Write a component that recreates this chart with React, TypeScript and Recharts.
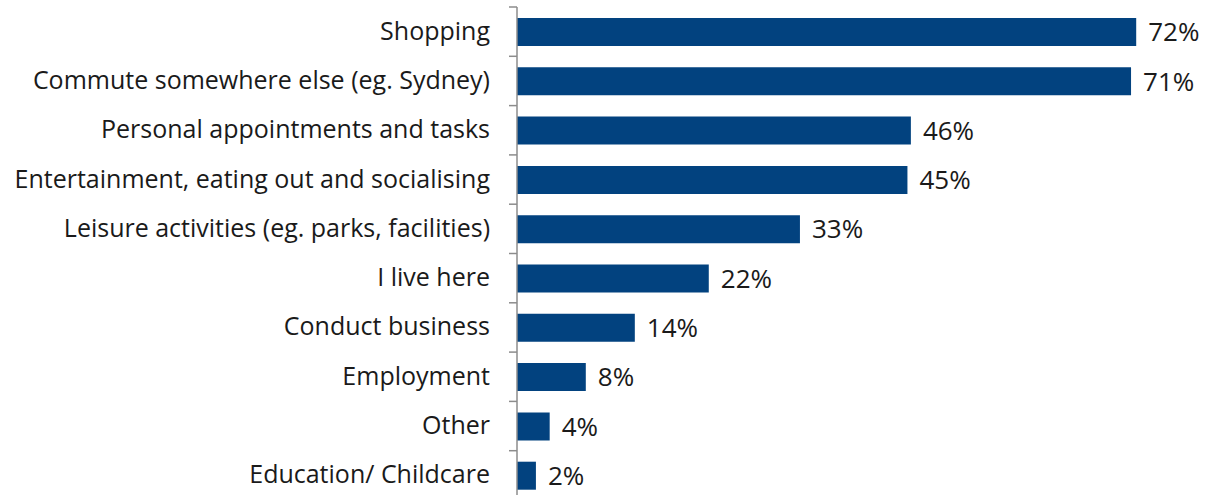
import { BarChart, Bar, XAxis, YAxis, LabelList } from "recharts";

const categories = [
  "Shopping",
  "Commute somewhere else (eg. Sydney)",
  "Personal appointments and tasks",
  "Entertainment, eating out and socialising",
  "Leisure activities (eg. parks, facilities)",
  "I live here",
  "Conduct business",
  "Employment",
  "Other",
  "Education/ Childcare",
];

const shares = [72, 71.4, 45.8, 45.4, 32.9, 22.3, 13.7, 8.0, 3.8, 2.2];

const data = categories.map((name, i) => ({ name, value: shares[i] }));

const CHART_H = 500;
const TOP = 7;
const BAND = (CHART_H - TOP) / categories.length;
const FONT = "'Open Sans', 'Noto Sans', sans-serif";

function CategoryTick({ x, y, payload, index }: any) {
  const axisX = x + 27;
  return (
    <g>
      <line x1={axisX - 8} x2={axisX} y1={y - BAND / 2} y2={y - BAND / 2} stroke="#8c8c8c" strokeWidth={1.5} />
      {index === categories.length - 1 && (
        <line x1={axisX - 8} x2={axisX} y1={y + BAND / 2} y2={y + BAND / 2} stroke="#8c8c8c" strokeWidth={1.5} />
      )}
      <text x={x} y={y} dy={8} textAnchor="end" fontSize={25} fill="#1a1a1a" fontFamily={FONT}>
        {payload.value}
      </text>
    </g>
  );
}

export default function App() {
  return (
    <div style={{ position: "absolute", left: 0, top: 0, width: 1212, height: 495, overflow: "hidden", background: "#fff" }}>
      <BarChart
        width={1212}
        height={CHART_H}
        data={data}
        layout="vertical"
        margin={{ top: TOP, right: 7, bottom: 0, left: 0 }}
      >
        <XAxis type="number" domain={[0, 80]} hide />
        <YAxis
          type="category"
          dataKey="name"
          width={517}
          tickSize={8}
          tickMargin={19}
          tickLine={false}
          axisLine={{ stroke: "#8c8c8c", strokeWidth: 1.5 }}
          tick={<CategoryTick />}
          interval={0}
        />
        <Bar dataKey="value" fill="#02427f" barSize={28} isAnimationActive={false}>
          <LabelList
            dataKey="value"
            position="right"
            offset={12}
            formatter={(v: any) => `${Math.round(Number(v))}%`}
            style={{ fontSize: 26, fill: "#1a1a1a", fontFamily: FONT }}
          />
        </Bar>
      </BarChart>
    </div>
  );
}
